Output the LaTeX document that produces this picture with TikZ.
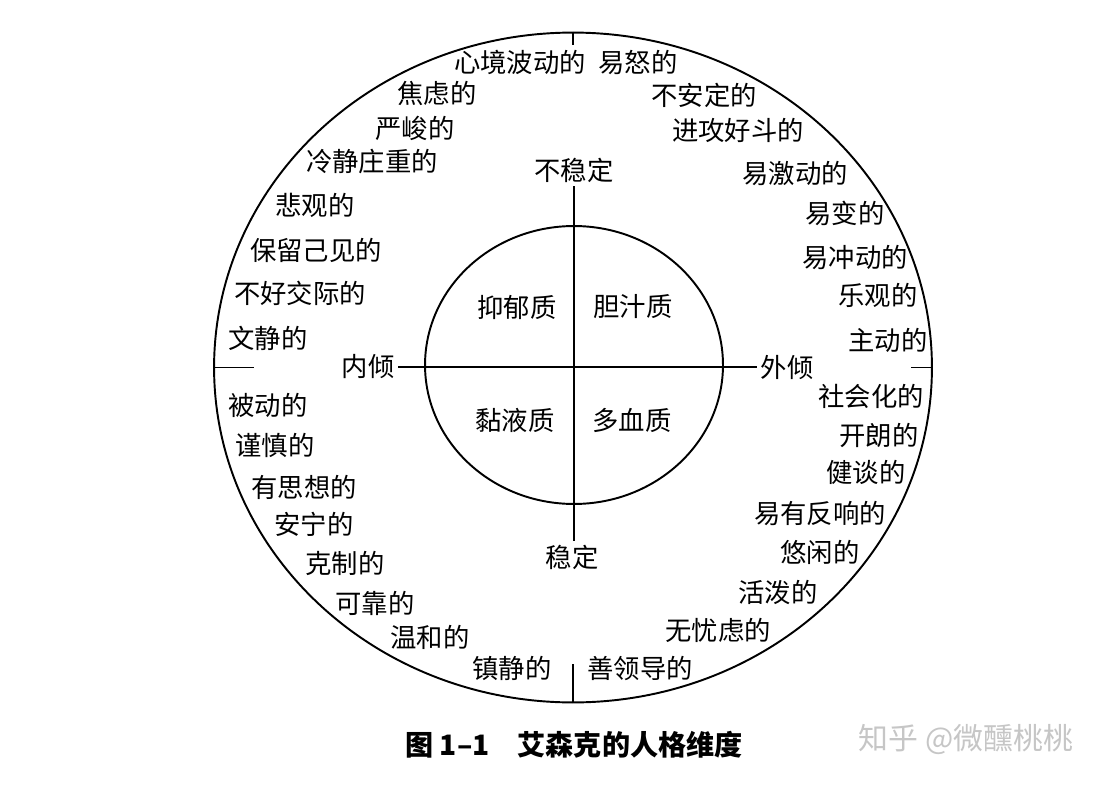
\documentclass[tikz,border=0pt]{standalone}
\usepackage{fontspec}
\newfontfamily\cjk{Noto Sans CJK SC}
\usetikzlibrary{shapes.geometric}
\tikzset{
  trait/.style={font=\cjk\fontsize{15}{18}\selectfont,inner sep=2pt},
  ring/.style={draw,ellipse,line width=1.1pt,inner sep=0pt},
  axis line/.style={line width=0.8pt}
}

\begin{document}
\begin{tikzpicture}[x=0.02cm,y=-0.02cm]
  \useasboundingbox[fill=white] (0,0) rectangle (1118,784);
  % outer ring and inner circle
  \node[ring,minimum width=14.36cm,minimum height=13.4cm] (outer) at (573,367.5) {};
  \node[ring,minimum width=5.96cm,minimum height=5.56cm] (inner) at (574,365) {};
  % the two dimensions
  \node[trait] (unstable) at (574,170) {不稳定};
  \node[trait] (stable) at (572,557) {稳定};
  \node[trait] (intro) at (368,367) {内倾};
  \node[trait] (extra) at (787,367) {外倾};
  \draw[axis line] (unstable.south) -- (unstable.south |- stable.north);
  \draw[axis line] (intro.east) -- (extra.west);
  \draw[axis line] (outer.north) -- ++(0,13); \draw[axis line] (outer.south) -- ++(0,-39);
  \draw[axis line] (outer.west) -- ++(41,0); \draw[axis line] (outer.east) -- ++(-22,0);
  % temperaments
  \node[trait] (melan) at (517,307) {抑郁质};
  \node[trait] (chol) at (633,307) {胆汁质};
  \node[trait] (phleg) at (515,420) {黏液质};
  \node[trait] (sang) at (632,420) {多血质};
  % traits round the ring
  \foreach \x/\y/\t [count=\i] in {520/62/心境波动的,437/93/焦虑的,415/128/严峻的,
      372/162/冷静庄重的,315/205/悲观的,316/250/保留己见的,300/293/不好交际的,
      268/338/文静的,268/405/被动的,275/445/谨慎的,304/487/有思想的,314/524/安宁的,
      345/563/克制的,375/603/可靠的,430/637/温和的,512/668/镇静的}
    \node[trait] (l\i) at (\x,\y) {\t};
  \foreach \x/\y/\t [count=\i] in {638/62/易怒的,704/95/不安定的,738/130/进攻好斗的,
      795/173/易激动的,845/213/易变的,855/257/易冲动的,878/295/乐观的,888/340/主动的,
      871/396/社会化的,879/435/开朗的,866/472/健谈的,820/513/易有反响的,
      820/552/悠闲的,778/592/活泼的,718/630/无忧虑的,640/668/善领导的}
    \node[trait] (r\i) at (\x,\y) {\t};
  \node[font=\cjk\bfseries\fontsize{16}{20}\selectfont] (caption) at (574,745) {图 1–1\quad 艾森克的人格维度};
  \node[font=\cjk\fontsize{17}{20}\selectfont,text=gray!45] (mark) at (966,740) {知乎 @微醺桃桃};
\end{tikzpicture}
\end{document}
